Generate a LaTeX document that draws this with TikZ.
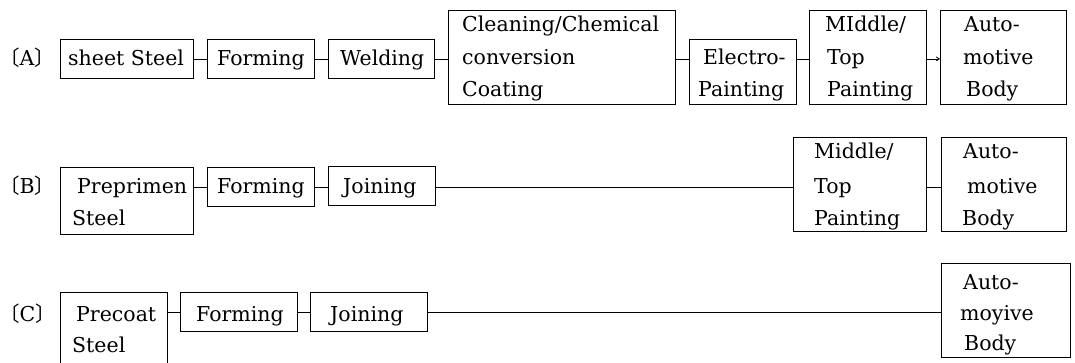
\documentclass[tikz,border=0pt]{standalone}
\usepackage{fontspec}
\setmainfont{DejaVu Serif}
\newfontfamily\cjk{Noto Sans CJK JP}
\usetikzlibrary{arrows.meta}
\begin{document}
\begin{tikzpicture}[x=1pt,y=-1pt,
  box/.style={draw,line width=0.8pt,inner sep=0pt,anchor=north west},
  txt/.style={anchor=base west,inner sep=0pt,font=\fontsize{20.5}{24}\selectfont},
  lbl/.style={anchor=base west,inner sep=0pt,font=\fontsize{20.5}{24}\selectfont},
  conn/.style={line width=0.8pt}]
\useasboundingbox (0,0) rectangle (1075,362);
% helper: box by corners
\newcommand\bx[5]{\node[box,minimum width={#4-#2},minimum height={#5-#3}] (#1) at (#2,#3) {};}
% ---------------- Row A
\node[lbl] (la) at (-1,65) {{\cjk 〔}A{\cjk 〕}};
\bx{a1}{60}{39}{193}{78}
\bx{a2}{207}{39}{314}{78}
\bx{a3}{328}{39}{434}{78}
\bx{a4}{448}{10}{675}{104}
\bx{a5}{689}{39}{796}{104}
\bx{a6}{809}{10}{926}{104}
\bx{a7}{940}{10}{1066}{104}
\node[txt] (ta1) at (68,65) {sheet Steel};
\node[txt] (ta2) at (217,65) {Forming};
\node[txt] (ta3) at (340,65) {Welding};
\node[txt] (ta4a) at (462,31) {Cleaning/Chemical};
\node[txt] (ta4b) at (462,64) {conversion};
\node[txt] (ta4c) at (462,96) {Coating};
\node[txt] (ta5a) at (703,64) {Electro-};
\node[txt] (ta5b) at (698,96) {Painting};
\node[txt] (ta6a) at (825,31) {MIddle/};
\node[txt] (ta6b) at (827,64) {Top};
\node[txt] (ta6c) at (827,96) {Painting};
\node[txt] (ta7a) at (964,31) {Auto-};
\node[txt] (ta7b) at (963,64) {motive};
\node[txt] (ta7c) at (966,96) {Body};
\draw[conn] (a1.east) -- (a2.west);
\draw[conn] (a2.east) -- (a3.west);
\draw[conn] (a3.east) -- (a3.east -| a4.west);
\draw[conn] (a4.east |- a1.east) -- (a5.west |- a1.east);
\draw[conn] (a5.east |- a1.east) -- (a6.west |- a1.east);
\draw[conn,-{Straight Barb[length=3pt,width=4pt]}] (a6.east |- a1.east) -- (a7.west |- a1.east);
% ---------------- Row B
\node[lbl] (lb) at (-1,193) {{\cjk 〔}B{\cjk 〕}};
\bx{b1}{60}{167}{193}{234}
\bx{b2}{207}{167}{314}{206}
\bx{b3}{328}{166}{435}{205}
\bx{b4}{793}{137}{926}{231}
\bx{b5}{941}{137}{1066}{231}
\node[txt] (tb1a) at (77,193) {Preprimen};
\node[txt] (tb1b) at (72,225) {Steel};
\node[txt] (tb2) at (217,193) {Forming};
\node[txt] (tb3) at (343,193) {Joining};
\node[txt] (tb4a) at (814,158) {Middle/};
\node[txt] (tb4b) at (814,193) {Top};
\node[txt] (tb4c) at (814,225) {Painting};
\node[txt] (tb5a) at (963,158) {Auto-};
\node[txt] (tb5b) at (967,193) {motive};
\node[txt] (tb5c) at (962,225) {Body};
\draw[conn] (b1.east |- b2.east) -- (b2.west);
\draw[conn] (b2.east) -- (b3.west |- b2.east);
\draw[conn] (b3.east |- b2.east) -- (b4.west |- b2.east);
\draw[conn] (b4.east |- b2.east) -- (b5.west |- b2.east);
% ---------------- Row C
\node[lbl] (lc) at (-1,321) {{\cjk 〔}C{\cjk 〕}};
\bx{c1}{60}{292}{167}{372}
\bx{c2}{180}{292}{297}{331}
\bx{c3}{310}{292}{427}{331}
\bx{c5}{941}{263}{1070}{357}
\node[txt] (tc1a) at (76,321) {Precoat};
\node[txt] (tc1b) at (72,352) {Steel};
\node[txt] (tc2) at (196,321) {Forming};
\node[txt] (tc3) at (330,321) {Joining};
\node[txt] (tc5a) at (963,289) {Auto-};
\node[txt] (tc5b) at (960,320) {moyive};
\node[txt] (tc5c) at (964,350) {Body};
\draw[conn] (c1.east |- c2.east) -- (c2.west);
\draw[conn] (c2.east) -- (c3.west);
\draw[conn] (c3.east) -- (c3.east -| c5.west);
\end{tikzpicture}
\end{document}
